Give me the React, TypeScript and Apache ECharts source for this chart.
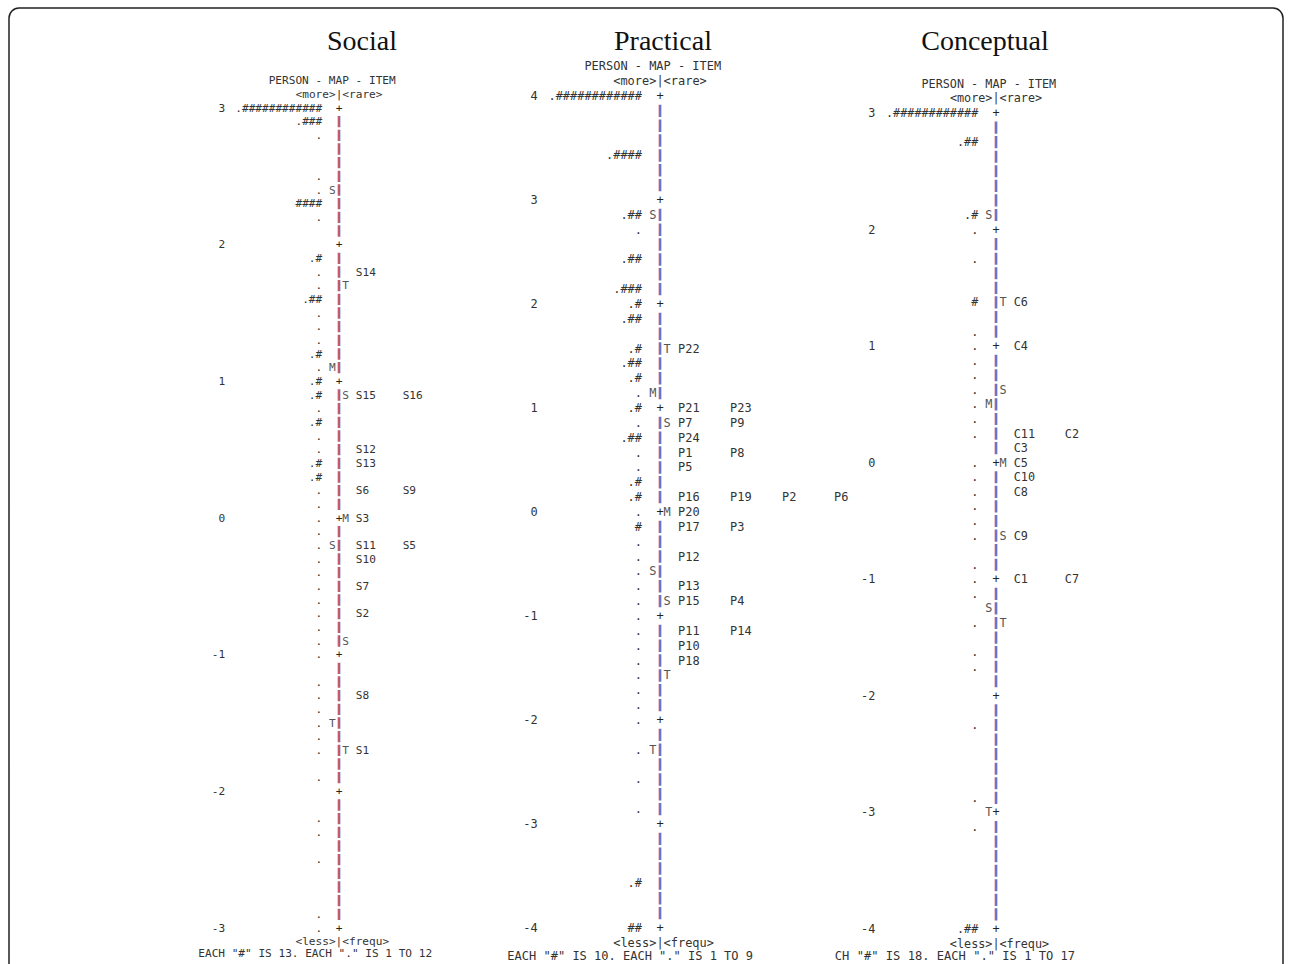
import React, { useEffect, useRef } from "react";
import * as echarts from "echarts";

const MONO = '"DejaVu Sans Mono", "Liberation Mono", monospace';
const SERIF = '"Liberation Serif", "Times New Roman", serif';

// ---------- Social (rows of 0.1 logit, from 3 down to -3) ----------
const socialPersons: string[] = [
  ".############", ".###", ".", "", "", ".", ".", "####", ".", "", "",
  ".#", ".", ".", ".##", ".", ".", ".", ".#", ".", ".#",
  ".#", ".", ".#", ".", ".", ".#", ".#", ".", ".", ".",
  ".", ".", ".", ".", ".", ".", ".", ".", ".", ".",
  "", ".", ".", ".", ".", ".", ".", "", ".", "",
  "", ".", ".", "", ".", "", "", "", ".", ".",
];
const socialMarks: [number, string, string][] = [
  [6, "L", "S"], [13, "R", "T"], [19, "L", "M"], [21, "R", "S"], [30, "R", "M"],
  [32, "L", "S"], [39, "R", "S"], [45, "L", "T"], [47, "R", "T"],
];
const socialItems: [number, string[]][] = [
  [12, ["S14"]], [21, ["S15", "S16"]], [25, ["S12"]], [26, ["S13"]], [28, ["S6", "S9"]],
  [30, ["S3"]], [32, ["S11", "S5"]], [33, ["S10"]], [35, ["S7"]], [37, ["S2"]],
  [43, ["S8"]], [47, ["S1"]],
];

// ---------- Practical (rows of 1/7 logit, from 4 down to -4) ----------
const practicalPersons: string[] = [
  ".############", "", "", "", ".####", "", "", "",
  ".##", ".", "", ".##", "", ".###", ".#",
  ".##", "", ".#", ".##", ".#", ".", ".#",
  ".", ".##", ".", ".", ".#", ".#", ".",
  "#", ".", ".", ".", ".", ".", ".",
  ".", ".", ".", ".", ".", ".", ".",
  "", ".", "", ".", "", ".", "",
  "", "", "", ".#", "", "", "##",
];
const practicalMarks: [number, string, string][] = [
  [8, "L", "S"], [17, "R", "T"], [20, "L", "M"], [22, "R", "S"], [28, "R", "M"],
  [32, "L", "S"], [34, "R", "S"], [39, "R", "T"], [44, "L", "T"],
];
const practicalItems: [number, string[]][] = [
  [17, ["P22"]], [21, ["P21", "P23"]], [22, ["P7", "P9"]], [23, ["P24"]], [24, ["P1", "P8"]],
  [25, ["P5"]], [27, ["P16", "P19", "P2", "P6"]], [28, ["P20"]], [29, ["P17", "P3"]],
  [31, ["P12"]], [33, ["P13"]], [34, ["P15", "P4"]], [36, ["P11", "P14"]], [37, ["P10"]],
  [38, ["P18"]],
];

// ---------- Conceptual (rows of 1/8 logit, from 3 down to -4) ----------
const conceptualPersons: string[] = [
  ".############", "", ".##", "", "", "", "", ".#",
  ".", "", ".", "", "", "#", "", ".",
  ".", ".", ".", ".", ".", ".", ".", "",
  ".", ".", ".", ".", ".", ".", "", ".",
  ".", ".", "", ".", "", ".", ".", "",
  "", "", ".", "", "", "", "", ".",
  "", ".", "", "", "", "", "", "",
  ".##",
];
const conceptualMarks: [number, string, string][] = [
  [7, "L", "S"], [13, "R", "T"], [19, "R", "S"], [20, "L", "M"], [24, "R", "M"],
  [29, "R", "S"], [34, "L", "S"], [35, "R", "T"], [48, "L", "T"],
];
const conceptualItems: [number, string[]][] = [
  [13, ["C6"]], [16, ["C4"]], [22, ["C11", "C2"]], [23, ["C3"]], [24, ["C5"]],
  [25, ["C10"]], [26, ["C8"]], [29, ["C9"]], [32, ["C1", "C7"]],
];

const titles = ["Social", "Practical", "Conceptual"];
const topLogits = [3, 4, 3];
const bottomLogits = [-3, -4, -4];
const rowsPerLogit = [10, 7, 8];
const footers = [
  'EACH "#" IS 13. EACH "." IS 1 TO 12',
  'EACH "#" IS 10. EACH "." IS 1 TO 9',
  'CH "#" IS 18. EACH "." IS 1 TO 17',
];

// ---------- layout (pixels) ----------
const layouts = [
  { lineX: 339, topY: 108, bottomY: 928, cw: 6.7, itemStep: 7.0, titleX: 362, footCol: -21, footFs: 11.1 },
  { lineX: 660, topY: 96, bottomY: 928, cw: 7.2, itemStep: 7.22, titleX: 663, footCol: -21.2, footFs: 12.0 },
  { lineX: 996, topY: 113, bottomY: 929, cw: 7.1, itemStep: 7.2, titleX: 985, footCol: -22.7, footFs: 12.1 },
];

const panels = [
  { persons: socialPersons, marks: socialMarks, items: socialItems },
  { persons: practicalPersons, marks: practicalMarks, items: practicalItems },
  { persons: conceptualPersons, marks: conceptualMarks, items: conceptualItems },
];

const TEXT = "#333";
const MARK = "#555";

function buildOption() {
  const grid: any[] = [];
  const xAxis: any[] = [];
  const yAxis: any[] = [];
  const series: any[] = [];
  const graphic: any[] = [];

  const LEFT_COLS = 17;
  const RIGHT_COLS = 32;

  panels.forEach((p, i) => {
    const L = layouts[i];
    const fs = L.cw / 0.602;
    grid.push({
      left: L.lineX - LEFT_COLS * L.cw,
      top: L.topY,
      width: (LEFT_COLS + RIGHT_COLS) * L.cw,
      height: L.bottomY - L.topY,
    });
    xAxis.push({ type: "value", gridIndex: i, min: -LEFT_COLS, max: RIGHT_COLS, show: false });
    yAxis.push({
      type: "value",
      gridIndex: i,
      min: bottomLogits[i],
      max: topLogits[i],
      interval: 1,
      axisLine: { show: false },
      axisTick: { show: false },
      splitLine: { show: false },
      axisLabel: {
        margin: 0,
        fontFamily: MONO,
        fontSize: fs,
        color: TEXT,
        showMinLabel: true,
        showMaxLabel: true,
      },
    });

    const n = p.persons.length;
    const per = rowsPerLogit[i];
    const top = topLogits[i];
    const data: number[][] = [];
    for (let r = -2; r < n + 2; r++) data.push([0, top - r / per]);

    const markMap: Record<number, { L?: string; R?: string }> = {};
    p.marks.forEach(([row, side, letter]) => {
      markMap[row] = markMap[row] || {};
      (markMap[row] as any)[side] = letter;
    });
    const itemMap: Record<number, string[]> = {};
    p.items.forEach(([row, labels]) => (itemMap[row] = labels));

    series.push({
      type: "custom",
      xAxisIndex: i,
      yAxisIndex: i,
      silent: true,
      clip: false,
      data,
      renderItem: (params: any, api: any) => {
        const r = params.dataIndex - 2;
        const logit = api.value(1);
        const pt = api.coord([0, logit]);
        const cx = pt[0];
        const cy = pt[1];
        const cw = api.size([1, 0])[0];
        const rowH = api.size([0, 1 / per])[1];
        const font = `${fs}px ${MONO}`;
        const txt = (x: number, text: string, align: string, fill = TEXT, f = font, y = cy) => ({
          type: "text",
          x,
          y,
          style: { text, fill, font: f, align, verticalAlign: "middle" },
        });
        const children: any[] = [];
        if (r === -2) {
          children.push(txt(cx - 10.5 * cw, "PERSON - MAP - ITEM", "left"));
        } else if (r === -1) {
          children.push(txt(cx, "<more>|<rare>", "center"));
        } else if (r === n) {
          children.push(txt(cx - 6.5 * cw, "<less>|<frequ>", "left"));
        } else if (r === n + 1) {
          children.push(
            txt(cx + L.footCol * cw, footers[i], "left", TEXT, `${L.footFs}px ${MONO}`, cy - 0.12 * rowH)
          );
        } else {
          const person = p.persons[r];
          if (person) children.push(txt(cx - 2.5 * cw, person, "right"));
          if (r % per === 0) {
            children.push(txt(cx, "+", "center", "#222"));
          } else {
            const xr = Math.round(cx);
            children.push({
              type: "line",
              shape: { x1: xr - 0.7, y1: cy - rowH / 2 + 1.2, x2: xr - 0.7, y2: cy + rowH / 2 - 1.2 },
              style: { stroke: "#c24a5c", lineWidth: 1.2 },
            });
            children.push({
              type: "line",
              shape: { x1: xr + 0.7, y1: cy - rowH / 2 + 1.2, x2: xr + 0.7, y2: cy + rowH / 2 - 1.2 },
              style: { stroke: "#5563c6", lineWidth: 1.2 },
            });
          }
          const m = markMap[r];
          if (m && m.L) children.push(txt(cx - cw, m.L, "center", MARK));
          if (m && m.R) children.push(txt(cx + cw, m.R, "center", MARK));
          const its = itemMap[r];
          if (its) {
            its.forEach((lab, k) => {
              children.push(txt(cx + (2.5 + k * L.itemStep) * cw, lab, "left"));
            });
          }
        }
        return { type: "group", children };
      },
    });

    graphic.push({
      type: "text",
      x: L.titleX,
      y: 40,
      silent: true,
      style: {
        text: titles[i],
        font: `28px ${SERIF}`,
        fill: "#111",
        align: "center",
        verticalAlign: "middle",
      },
    });
  });

  graphic.push({
    type: "rect",
    silent: true,
    z: -10,
    shape: { x: 9, y: 8, width: 1274, height: 1040, r: 10 },
    style: { fill: "none", stroke: "#222", lineWidth: 1.5 },
  });

  return {
    animation: false,
    backgroundColor: "#ffffff",
    grid,
    xAxis,
    yAxis,
    series,
    graphic,
  };
}

export default function App() {
  const ref = useRef<HTMLDivElement>(null);
  useEffect(() => {
    if (!ref.current) return;
    const chart = echarts.init(ref.current, undefined, { renderer: "svg" });
    chart.setOption(buildOption() as any);
    return () => chart.dispose();
  }, []);
  return (
    <div
      ref={ref}
      style={{ position: "fixed", left: 0, top: 0, width: 1292, height: 964, background: "#fff" }}
    />
  );
}
